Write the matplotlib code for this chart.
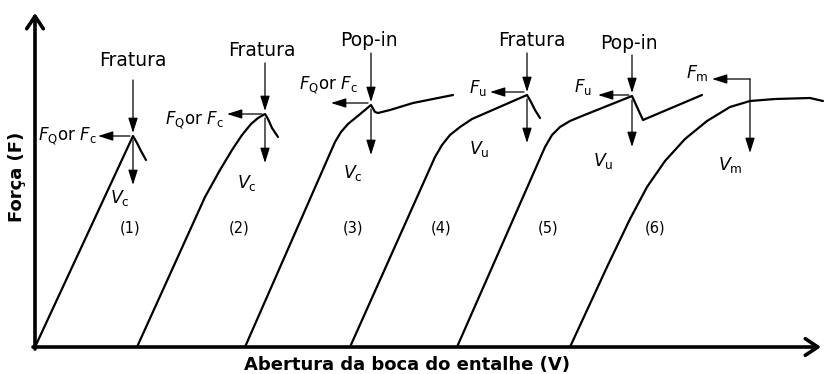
import matplotlib.pyplot as plt

plt.rcParams['mathtext.fontset'] = 'dejavusans'

# notch opening V (x) and force F (y) for the six load-opening record types
v1 = [0, 98, 102, 106, 111]
f1 = [0, 211, 204, 196, 187]
v2 = [102, 170, 185, 197, 207, 216, 223, 230, 233, 237, 243]
f2 = [0, 150, 177, 197, 212, 223, 229, 233, 228, 219, 210]
v3 = [210, 300, 306, 313, 324, 336, 340, 343, 355, 378, 418]
f3 = [0, 205, 215, 223, 232, 242, 235, 234, 237, 244, 252]
v4 = [315, 400, 407, 415, 425, 437, 492, 496, 500, 505]
f4 = [0, 190, 202, 212, 220, 228, 252, 245, 237, 229]
v5 = [422, 510, 517, 525, 535, 547, 597, 602, 608, 667]
f5 = [0, 200, 212, 220, 226, 231, 251, 240, 227, 252]
v6 = [535, 572, 595, 612, 630, 650, 672, 695, 715, 740, 775, 788]
f6 = [0, 80, 128, 160, 186, 208, 226, 240, 246, 248, 249, 246]

curves = [(v1, f1), (v2, f2), (v3, f3), (v4, f4), (v5, f5), (v6, f6)]
event_idx = [1, 7, 5, 6, 6]          # point where fracture / pop-in happens
event_names = ['Fratura', 'Fratura', 'Pop-in', 'Fratura', 'Pop-in']
force_labels = [r'$F_\mathrm{Q}$or $F_\mathrm{c}$', r'$F_\mathrm{Q}$or $F_\mathrm{c}$',
                r'$F_\mathrm{Q}$or $F_\mathrm{c}$', r'$F_\mathrm{u}$', r'$F_\mathrm{u}$']
open_labels = [r'$V_\mathrm{c}$', r'$V_\mathrm{c}$', r'$V_\mathrm{c}$',
               r'$V_\mathrm{u}$', r'$V_\mathrm{u}$']
case_labels = ['(1)', '(2)', '(3)', '(4)', '(5)', '(6)']

fig = plt.figure(figsize=(8.24, 3.74), dpi=100)
ax = fig.add_axes([0, 0, 1, 1])
ax.set_xlim(-35, 789)
ax.set_ylim(-27, 347)
ax.axis('off')

thin = dict(arrowstyle='-|>,head_length=0.7,head_width=0.22', lw=0.9,
            color='black', shrinkA=0, shrinkB=0, mutation_scale=13)
thick = dict(arrowstyle='->,head_length=0.45,head_width=0.3', lw=2.6,
             color='black', shrinkA=0, shrinkB=0, mutation_scale=20)

# axes with arrow heads
ax.annotate('', xy=(786, 0), xytext=(-2, 0), arrowprops=thick)
ax.annotate('', xy=(0, 334), xytext=(0, -2), arrowprops=thick)
ax.text(-18, 170, 'Força (F)', rotation=90, ha='center', va='center',
        fontsize=13, fontweight='bold', family='DejaVu Sans')
ax.text(372, -18, 'Abertura da boca do entalhe (V)', ha='center', va='center',
        fontsize=13, fontweight='bold', family='DejaVu Sans')

for v, f in curves:
    ax.plot(v, f, color='black', lw=1.6, solid_joinstyle='round',
            solid_capstyle='round')

# per-event layout: title offset, arrow top, arrow below end,
# left arrow length, force label offset, opening label offset, left arrow dy
layout = [
    dict(t=(0, 76), top=56, bot=-49, left=35, fl=(-36, 0), vl=(-13, -62), ldy=0),
    dict(t=(-3, 64), top=51, bot=-49, left=38, fl=(-41, -6), vl=(-18, -69), ldy=0),
    dict(t=(-2, 65), top=52, bot=-50, left=40, fl=(-13, 20), vl=(-18, -68), ldy=2),
    dict(t=(5, 55), top=42, bot=-48, left=37, fl=(-40, 7), vl=(-48, -54), ldy=3),
    dict(t=(-3, 53), top=41, bot=-51, left=34, fl=(-40, 9), vl=(-29, -65), ldy=1),
]

for k, i in enumerate(event_idx):
    v, f = curves[k]
    ev, ef = v[i], f[i]
    L = layout[k]
    ax.text(ev + L['t'][0], ef + L['t'][1], event_names[k], ha='center',
            va='center', fontsize=13.5, family='DejaVu Sans')
    ax.annotate('', xy=(ev, ef + 3), xytext=(ev, ef + L['top']), arrowprops=thin)
    ax.annotate('', xy=(ev, ef + L['bot']), xytext=(ev, ef - 4), arrowprops=thin)
    ax.annotate('', xy=(ev - L['left'], ef + L['ldy']),
                xytext=(ev - 3, ef + L['ldy']), arrowprops=thin)
    ax.text(ev + L['fl'][0], ef + L['fl'][1], force_labels[k], ha='right',
            va='center', fontsize=12)
    ax.text(ev + L['vl'][0], ef + L['vl'][1], open_labels[k], ha='center',
            va='center', fontsize=12.5)

# maximum force on the last curve
v, f = curves[5]
mv, mf = v[8], max(f) + 19
ax.annotate('', xy=(mv - 38, mf), xytext=(mv, mf), arrowprops=thin)
ax.annotate('', xy=(mv, mf - 74), xytext=(mv, mf), arrowprops=thin)
ax.text(mv - 41, mf + 6, r'$F_\mathrm{m}$', ha='right', va='center', fontsize=12.5)
ax.text(mv - 20, mf - 86, r'$V_\mathrm{m}$', ha='center', va='center', fontsize=12.5)

for lbl, x in zip(case_labels, [95, 204, 318, 406, 513, 620]):
    ax.text(x, 119, lbl, ha='center', va='center', fontsize=10.5,
            family='DejaVu Sans')

plt.savefig('out.png', dpi=100)
